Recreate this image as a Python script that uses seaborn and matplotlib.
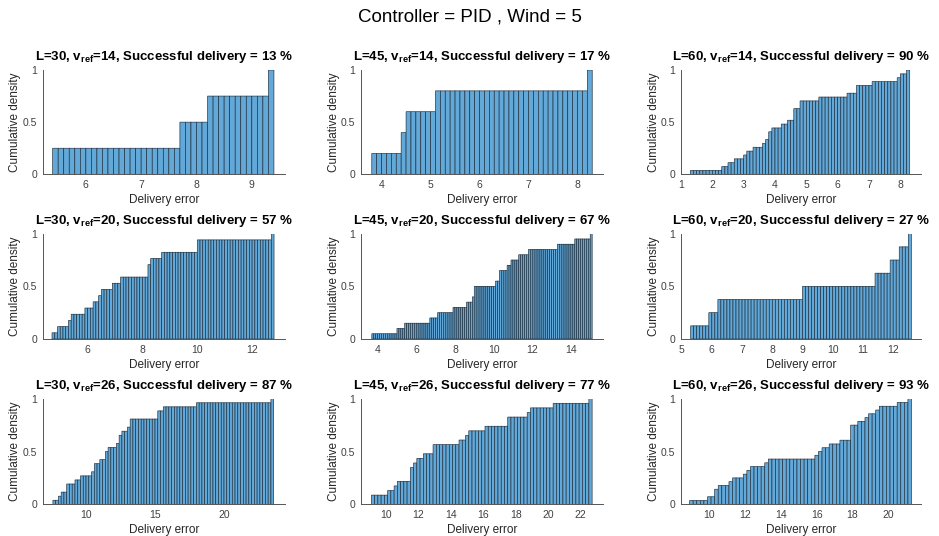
import numpy as np
import matplotlib
matplotlib.use("Agg")
import matplotlib.pyplot as plt
import seaborn as sns

# ---------------- data ----------------
lengths = [30, 45, 60]
vrefs = [14, 20, 26]
success = [[13, 17, 90],
           [57, 67, 27],
           [87, 77, 93]]

# delivery errors per panel (row = v_ref, col = L)
err_L30_v14 = [5.45, 7.75, 8.25, 9.35]
err_L45_v14 = [3.85, 4.45, 4.55, 5.15, 8.25]
err_L60_v14 = [1.35, 2.35, 2.55, 2.75, 3.05, 3.15, 3.35, 3.65, 3.75, 3.85, 3.85,
               3.95, 4.25, 4.45, 4.65, 4.65, 4.65, 4.85, 4.85, 5.45, 6.35, 6.65,
               6.65, 7.15, 7.95, 8.05, 8.25]
err_L30_v20 = [4.75, 4.95, 5.35, 5.45, 5.95, 6.25, 6.45, 6.55, 6.95, 7.25, 8.25,
               8.25, 8.35, 8.75, 10.05, 10.05, 12.75]
err_L45_v20 = [3.75, 5.05, 5.45, 6.75, 7.15, 7.95, 8.65, 8.95, 9.05, 9.05, 10.15,
               10.35, 10.35, 10.75, 10.95, 11.35, 11.85, 13.35, 14.25, 15.05]
err_L60_v20 = [5.35, 5.95, 6.25, 9.05, 11.45, 11.95, 12.25, 12.55]
err_L30_v26 = [7.7, 8.1, 8.3, 8.7, 8.7, 9.3, 9.7, 10.5, 10.7, 10.7, 11.1, 11.5,
               11.5, 11.7, 12.3, 12.5, 12.5, 12.7, 13.1, 13.3, 13.3, 15.3, 15.3,
               15.7, 18.1, 23.5]
err_L45_v26 = [9.2, 9.2, 10.2, 10.6, 10.8, 11.6, 11.6, 11.6, 11.8, 12.0, 12.4,
               13.0, 13.0, 14.6, 15.0, 15.2, 16.2, 17.6, 17.6, 18.8, 19.0, 20.4,
               22.6]
err_L60_v26 = [9.0, 10.0, 10.4, 10.4, 10.6, 11.2, 11.4, 12.0, 12.2, 12.4, 13.2,
               13.4, 16.0, 16.2, 16.4, 16.8, 17.4, 18.0, 18.0, 18.0, 18.0, 18.4,
               18.8, 19.0, 19.4, 19.6, 20.6, 21.2]

errors = [[err_L30_v14, err_L45_v14, err_L60_v14],
          [err_L30_v20, err_L45_v20, err_L60_v20],
          [err_L30_v26, err_L45_v26, err_L60_v26]]

# x tick labels per panel
xticks = [[[6, 7, 8, 9], [4, 5, 6, 7, 8], [1, 2, 3, 4, 5, 6, 7, 8]],
          [[6, 8, 10, 12], [4, 6, 8, 10, 12, 14], [5, 6, 7, 8, 9, 10, 11, 12]],
          [[10, 15, 20], [10, 12, 14, 16, 18, 20, 22], [10, 12, 14, 16, 18, 20]]]
yticks = [0, 0.5, 1]
ytick_labels = ["0", "0.5", "1"]

# ---------------- binning / axes config ----------------
bin_cfg = [[(5.4, 9.4, 40), (3.8, 8.3, 45), (1.3, 8.3, 70)],
           [(4.7, 12.8, 81), (3.7, 15.1, 114), (5.3, 12.6, 73)],
           [(7.6, 23.6, 80), (9.1, 22.7, 68), (8.9, 21.3, 62)]]
xlims = [[(5.22, 9.60), (3.58, 8.52), (1.0, 8.66)],
         [(4.36, 13.2), (3.14, 15.66), (4.98, 12.92)],
         [(6.86, 24.42), (8.46, 23.37), (8.42, 21.83)]]

W, H = 939, 536
col_l = [42.7, 361, 681]
col_r = [285, 603, 921]
row_t = [70, 233.7, 398.7]
row_b = [174.3, 339, 504.3]

face = "#62A8D9"
edge = "#1c2b38"
axis_col = "#555555"
text_col = "#262626"

sns.set_style("white")
plt.rcParams["font.family"] = ["Liberation Sans", "DejaVu Sans"]
plt.rcParams["mathtext.fontset"] = "custom"
plt.rcParams["mathtext.rm"] = "Liberation Sans"
plt.rcParams["mathtext.bf"] = "Liberation Sans:bold"

fig = plt.figure(figsize=(W / 100, H / 100), dpi=100)
fig.patch.set_facecolor("white")

for i in range(3):
    for j in range(3):
        l, r, t, b = col_l[j], col_r[j], row_t[i], row_b[i]
        ax = fig.add_axes([l / W, 1 - b / H, (r - l) / W, (b - t) / H])
        s, e, n = bin_cfg[i][j]
        edges = np.linspace(s, e, n + 1)
        sns.histplot(x=np.array(errors[i][j]), bins=edges, stat="proportion",
                     cumulative=True, color=face, edgecolor=edge, linewidth=0.45,
                     alpha=1, snap=False, ax=ax)
        ax.set_xlim(*xlims[i][j])
        ax.set_ylim(0, 1)
        ax.set_xticks(xticks[i][j])
        ax.set_xticklabels([str(v) for v in xticks[i][j]])
        ax.set_yticks(yticks)
        ax.set_yticklabels(ytick_labels)
        ax.tick_params(direction="in", length=3, width=0.6, color=axis_col,
                       labelsize=7.5, labelcolor="#404040", pad=4)
        for side in ["top", "right"]:
            ax.spines[side].set_visible(False)
        for side in ["left", "bottom"]:
            ax.spines[side].set_color(axis_col)
            ax.spines[side].set_linewidth(0.7)
        ax.set_xlabel("Delivery error", fontsize=8.5, color=text_col, labelpad=3)
        ax.set_ylabel("Cumulative density", fontsize=8.5, color=text_col, labelpad=1)
        ax.set_title(
            r"L=%d, v$_{\mathbf{ref}}$=%d, Successful delivery = %d %%"
            % (lengths[j], vrefs[i], success[i][j]),
            fontsize=9.5, fontweight="bold", color="black", pad=7)

fig.suptitle("Controller = PID , Wind = 5", fontsize=13.5, y=1 - 17 / H,
             va="center", color="black")

fig.savefig("out.png", dpi=100, facecolor="white")
